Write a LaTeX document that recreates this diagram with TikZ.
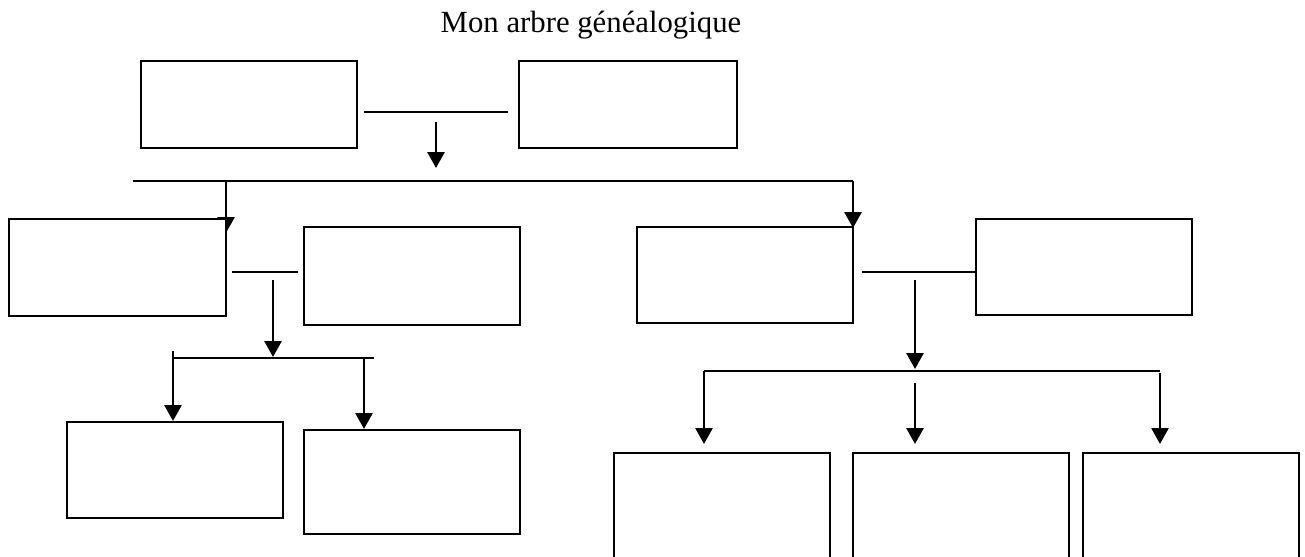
\documentclass[tikz,border=0pt]{standalone}
\usepackage{fontspec}
\setmainfont{Liberation Serif}
\usetikzlibrary{arrows.meta}
\begin{document}
\begin{tikzpicture}[x=0.02cm,y=-0.02cm]
			\tikzstyle{case} = [draw, fill=white, line width=1.2pt, anchor=north west, minimum width=4.32cm, inner sep=0, outer sep=0]
			\tikzstyle{fleche} = [-{Triangle[width=0.34cm,length=0.32cm]}, line width=1.6pt]
			\tikzstyle{trait} = [line width=1pt]
			\useasboundingbox (0,0) rectangle (1305,556);
			\clip (0,0) rectangle (1305,556);
			\node [anchor=base, font=\fontsize{17.5}{21}\selectfont] (titre) at (591,32) {Mon arbre généalogique};
			\coordinate (v1) at (364,112);
			\coordinate (v2) at (508,112);
			\coordinate (v3) at (436,122);
			\coordinate (v4) at (436,168);
			\coordinate (v5) at (133,181);
			\coordinate (v6) at (226,181);
			\coordinate (v7) at (226,233);
			\coordinate (v8) at (853,181);
			\coordinate (v9) at (853,228);
			\coordinate (v10) at (232,272);
			\coordinate (v11) at (298,272);
			\coordinate (v12) at (273,280);
			\coordinate (v13) at (273,357);
			\coordinate (v14) at (173,358);
			\coordinate (v15) at (374,358);
			\coordinate (v16) at (173,351);
			\coordinate (v17) at (173,421);
			\coordinate (v18) at (364,358);
			\coordinate (v19) at (364,429);
			\coordinate (v20) at (862,272);
			\coordinate (v21) at (915,280);
			\coordinate (v22) at (915,369);
			\coordinate (v23) at (704,371);
			\coordinate (v24) at (1160,371);
			\coordinate (v25) at (704,444);
			\coordinate (v26) at (915,383);
			\coordinate (v27) at (915,444);
			\coordinate (v28) at (1160,373);
			\coordinate (v29) at (1160,444);
			\draw [trait] (v1) -- (v2);
			\draw [fleche] (v3) -- (v4);
			\draw [trait] (v5) -- (v8);
			\draw [fleche] (v6) -- (v7);
			\draw [fleche] (v8) -- (v9);
			\draw [trait] (v10) -- (v11);
			\draw [fleche] (v12) -- (v13);
			\draw [trait] (v14) -- (v15);
			\draw [fleche] (v16) -- (v17);
			\draw [fleche] (v18) -- (v19);
			\draw [fleche] (v21) -- (v22);
			\draw [trait] (v23) -- (v24);
			\draw [fleche] (v23) -- (v25);
			\draw [fleche] (v26) -- (v27);
			\draw [fleche] (v28) -- (v29);
			\node [case, minimum height=1.74cm] (gpa) at (141,61) {};
			\node [case, minimum height=1.74cm, minimum width=4.36cm] (gma) at (519,61) {};
			\node [case, minimum height=1.94cm, minimum width=4.34cm] (par1) at (9,219) {};
			\node [case, minimum height=1.96cm] (conj1) at (304,227) {};
			\node [case, minimum height=1.92cm] (par2) at (637,227) {};
			\node [case, minimum height=1.92cm] (conj2) at (976,219) {};
			\draw [trait] (v20) -- (v20 -| conj2.west);
			\node [case, minimum height=1.92cm] (enf1) at (67,422) {};
			\node [case, minimum height=2.08cm] (enf2) at (304,430) {};
			\node [case, minimum height=2.6cm] (enf3) at (614,453) {};
			\node [case, minimum height=2.6cm] (enf4) at (853,453) {};
			\node [case, minimum height=2.6cm] (enf5) at (1083,453) {};
\end{tikzpicture}
\end{document}
